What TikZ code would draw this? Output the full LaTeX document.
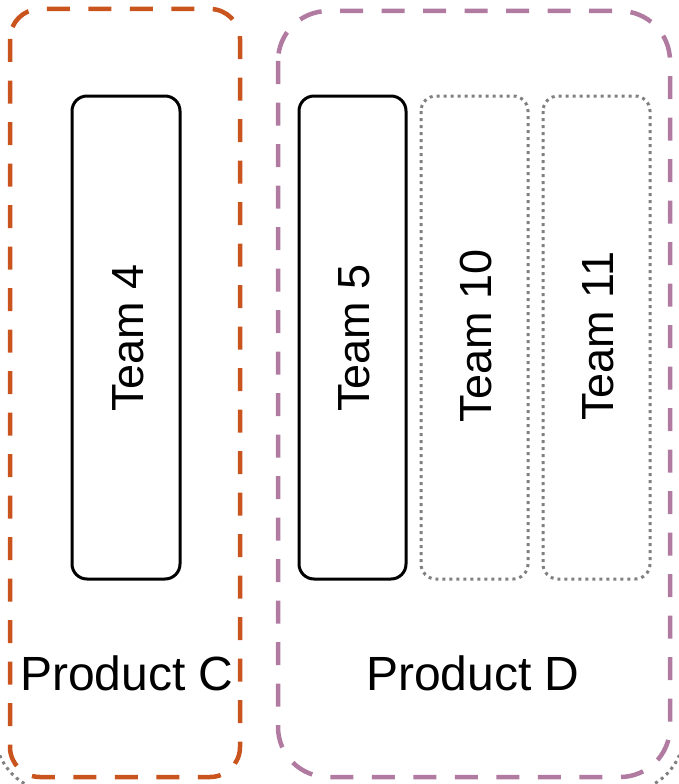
\documentclass[tikz,border=0pt]{standalone}
\usepackage{fontspec}
\setmainfont{Liberation Sans}
\definecolor{prodC}{HTML}{C9541E}
\definecolor{prodD}{HTML}{B07AA1}
\definecolor{planned}{HTML}{808080}
\tikzset{
  product/.style={draw, line width=4.5pt, rounded corners=#1,
    dash pattern=on 23pt off 18.5pt},
  teambox/.style={draw=black, line width=3pt, rounded corners=15pt},
  plannedbox/.style={draw=planned, line width=3pt, rounded corners=15pt,
    dash pattern=on 3pt off 4pt},
  teamlabel/.style={rotate=90, inner sep=0pt, font=\fontsize{45}{54}\selectfont},
  prodlabel/.style={anchor=base, inner sep=0pt, font=\fontsize{48}{58}\selectfont},
}
\begin{document}
\begin{tikzpicture}[x=1pt, y=-1pt]
\useasboundingbox (0,0) rectangle (679,784);

% enclosing group, mostly outside the visible area
\begin{scope}
  \clip (0,0) rectangle (679,784);
  \draw[planned, line width=3pt, rounded corners=60pt,
        dash pattern=on 3pt off 4pt] (-5,-200) rectangle (684,792);
\end{scope}

% product groups
\draw[product=30pt, prodC] (10,9) rectangle (240,777);
\draw[product=50pt, prodD] (278,11) rectangle (670,777);

% teams
\draw[teambox] (72,96) rectangle (180,579);
\draw[teambox] (299,96) rectangle (406,579);
\draw[plannedbox] (421,96) rectangle (528,579);
\draw[plannedbox] (543,96) rectangle (650,579);

\node[teamlabel] (t4) at (128,338) {Team 4};
\node[teamlabel] (t5) at (354,338) {Team 5};
\node[teamlabel] (t10) at (476,336) {Team 10};
\node[teamlabel] (t11) at (598,336) {Team 11};

\node[prodlabel] (pc) at (127,690) {Product C};
\node[prodlabel] (pd) at (473,690) {Product D};
\end{tikzpicture}
\end{document}
